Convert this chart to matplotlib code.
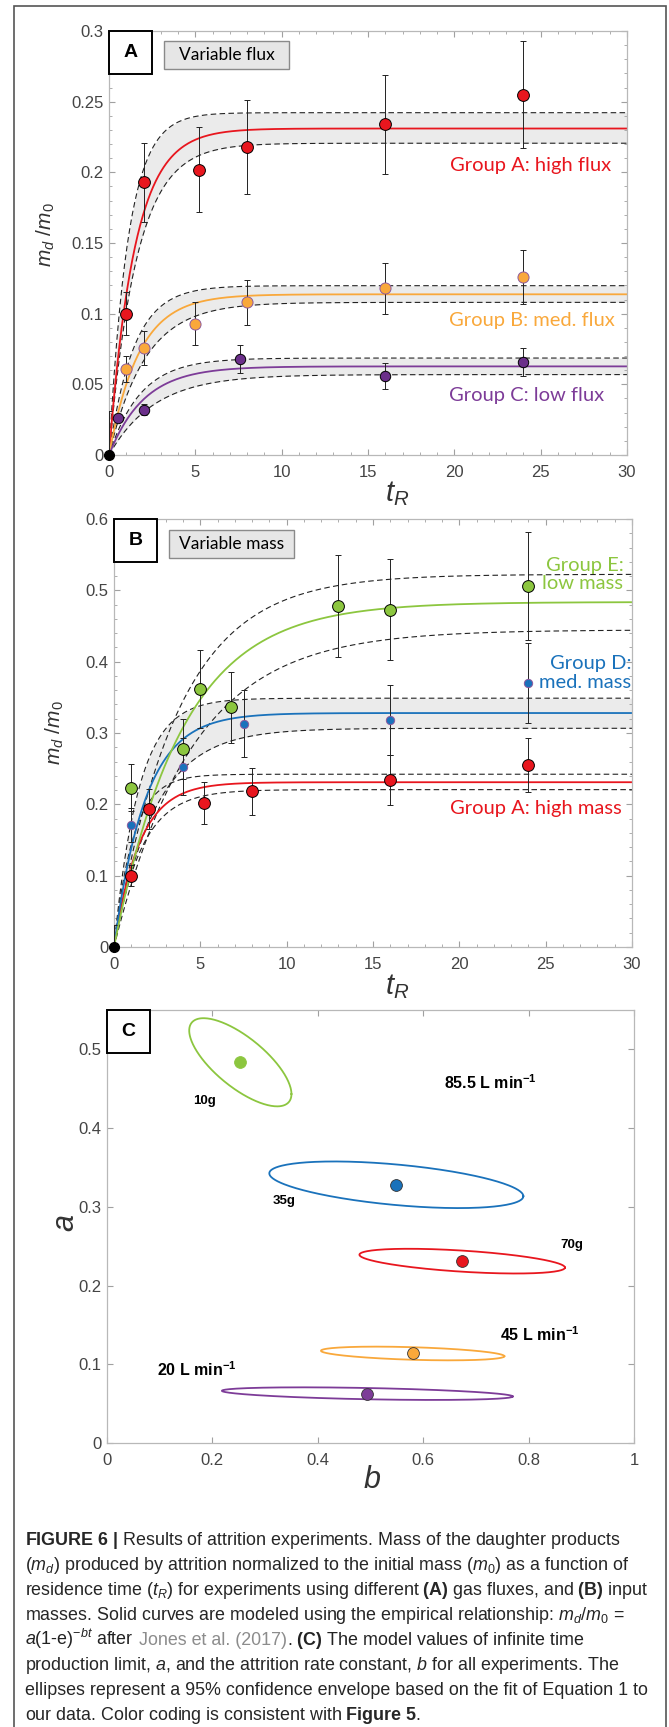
import numpy as np
import matplotlib
matplotlib.use("Agg")
import matplotlib.pyplot as plt
from matplotlib.patches import Rectangle
from matplotlib.ticker import MultipleLocator, FuncFormatter

W, H = 669, 1727

plt.rcParams['font.family'] = ['Liberation Sans', 'DejaVu Sans']
plt.rcParams['mathtext.fontset'] = 'custom'
plt.rcParams['mathtext.rm'] = 'Liberation Sans'
plt.rcParams['mathtext.it'] = 'Liberation Sans:italic'
plt.rcParams['mathtext.bf'] = 'Liberation Sans:bold'

# ---- panel A : variable flux ----
tA_high = [1, 2, 5.2, 8, 16, 24]
yA_high = [0.100, 0.193, 0.202, 0.218, 0.234, 0.255]
eA_high = [0.015, 0.028, 0.030, 0.033, 0.035, 0.038]

tA_med = [1, 2, 5, 8, 16, 24]
yA_med = [0.061, 0.076, 0.093, 0.108, 0.118, 0.126]
eA_med = [0.009, 0.012, 0.015, 0.016, 0.018, 0.019]

tA_low = [0.5, 2, 7.6, 16, 24]
yA_low = [0.026, 0.032, 0.068, 0.056, 0.066]
eA_low = [0.003, 0.004, 0.010, 0.009, 0.010]

# ---- panel B : variable mass (group A high mass = same runs as high flux) ----
tB_low = [1, 4, 5, 6.75, 13, 16, 24]
yB_low = [0.223, 0.278, 0.362, 0.336, 0.478, 0.473, 0.506]
eB_low = [0.033, 0.042, 0.055, 0.050, 0.072, 0.071, 0.076]

tB_med = [1, 4, 7.5, 16, 24]
yB_med = [0.171, 0.253, 0.313, 0.318, 0.370]
eB_med = [0.024, 0.040, 0.047, 0.049, 0.056]

origin_t, origin_y, origin_e = [0], [0], [0.031]

# fitted a, b (panel C centres) and dashed 95% bounds, order:
# high flux/mass, med. flux, low flux, med. mass, low mass
fit_a = [0.231, 0.1137, 0.0627, 0.328, 0.4836]
fit_b = [0.674, 0.580, 0.494, 0.549, 0.253]
hi_a = [0.2422, 0.1198, 0.0686, 0.3488, 0.5225]
hi_b = [0.90, 0.70, 0.55, 0.70, 0.27]
lo_a = [0.2206, 0.108, 0.0569, 0.3066, 0.4446]
lo_b = [0.62, 0.48, 0.38, 0.42, 0.22]

# confidence ellipses: half range in b, half range in a, b-a correlation
ell_sb = [0.195, 0.174, 0.276, 0.241, 0.097]
ell_sa = [0.0157, 0.0087, 0.008, 0.0296, 0.056]
ell_rho = [-0.52, -0.40, -0.45, -0.49, -0.72]

red = '#e8161e'
orange = '#f9a83b'
purple = '#7d3c98'
blue = '#1a72bb'
green = '#8cc63f'
cols = [red, orange, purple, blue, green]

t = np.linspace(0, 30, 400)


def model(a, b):
    return a * (1 - np.exp(-b * t))


fig = plt.figure(figsize=(W / 100, H / 100), dpi=100)


def px_axes(x0, y0, x1, y1):
    return fig.add_axes([x0 / W, 1 - y1 / H, (x1 - x0) / W, (y1 - y0) / H])


def style(ax, xmaj, ymaj, xmin=None, ymin=None):
    for s in ax.spines.values():
        s.set_color('#b8b8b8')
        s.set_linewidth(0.9)
    ax.xaxis.set_major_locator(MultipleLocator(xmaj))
    ax.yaxis.set_major_locator(MultipleLocator(ymaj))
    if xmin:
        ax.xaxis.set_minor_locator(MultipleLocator(xmin))
        ax.yaxis.set_minor_locator(MultipleLocator(ymin))
    fmt = FuncFormatter(lambda v, p: '%g' % round(v, 3))
    ax.xaxis.set_major_formatter(fmt)
    ax.yaxis.set_major_formatter(fmt)
    ax.tick_params(which='both', direction='in', top=True, right=True,
                   color='#a0a0a0', labelsize=12, labelcolor='#444444')
    ax.tick_params(which='major', length=4.5, width=0.8)
    ax.tick_params(which='minor', length=2.5, width=0.6)
    ax.tick_params(axis='x', pad=7)
    ax.tick_params(axis='y', pad=4)


def label_boxes(x0, y0, letter, x1, x2, yb0, yb1, word):
    fig.add_artist(Rectangle((x0 / W, 1 - (y0 + 43) / H), 43 / W, 43 / H,
                             transform=fig.transFigure, fc='white', ec='black', lw=1.4))
    fig.text((x0 + 21.5) / W, 1 - (y0 + 21.5) / H, letter, ha='center', va='center',
             fontsize=14, fontweight='bold')
    fig.add_artist(Rectangle((x1 / W, 1 - yb1 / H), (x2 - x1) / W, (yb1 - yb0) / H,
                             transform=fig.transFigure, fc='#e6e6e6', ec='#8a8a8a', lw=1.0))
    fig.text((x1 + x2) / 2 / W, 1 - (yb0 + yb1) / 2 / H, word, ha='center', va='center',
             fontsize=12.5, family='Lato')


def draw_group(ax, tt, yy, ee, i, ms, mec='k', fill=True):
    if fill:
        ax.fill_between(t, model(lo_a[i], lo_b[i]), model(hi_a[i], hi_b[i]),
                        color='#ebebeb', lw=0, zorder=1)
    ax.plot(t, model(hi_a[i], hi_b[i]), ls=(0, (5, 3)), color='#222222', lw=0.8, zorder=2)
    ax.plot(t, model(lo_a[i], lo_b[i]), ls=(0, (5, 3)), color='#222222', lw=0.8, zorder=2)
    ax.plot(t, model(fit_a[i], fit_b[i]), color=cols[i], lw=1.3, zorder=2.5)
    ax.errorbar(tt, yy, yerr=ee, fmt='none', ecolor='#222222', elinewidth=0.7,
                capsize=2, capthick=0.7, zorder=3)
    ax.plot(tt, yy, 'o', ms=ms, mfc=cols[i], mec=mec, mew=0.7, zorder=4)


def origin(ax):
    ax.errorbar(origin_t, origin_y, yerr=origin_e, fmt='none', ecolor='#222222',
                elinewidth=0.7, capsize=2, capthick=0.7, zorder=3)
    ax.plot(origin_t, origin_y, 'o', ms=7, color='black', zorder=5, clip_on=False)


# ---------------- panel A ----------------
axA = px_axes(109, 31, 627, 455)
draw_group(axA, tA_high, yA_high, eA_high, 0, 8.5)
draw_group(axA, tA_med, yA_med, eA_med, 1, 8, mec='#8e5a9e')
draw_group(axA, tA_low, yA_low, eA_low, 2, 7.5)
axA.lines[-1].set_markerfacecolor('#6b2f8a')
origin(axA)
axA.set_xlim(0, 30)
axA.set_ylim(0, 0.3)
style(axA, 5, 0.05, 1, 0.01)
axA.text(29.1, 0.2047, 'Group A: high flux', ha='right', va='center', color=red,
         family='Lato', fontsize=14.5)
axA.text(29.3, 0.0955, 'Group B: med. flux', ha='right', va='center', color=orange,
         family='Lato', fontsize=14.5)
axA.text(28.7, 0.042, 'Group C: low flux', ha='right', va='center', color=purple,
         family='Lato', fontsize=14.5)
axA.set_ylabel(r'$m_d\ /m_0$', fontsize=15, color='#333333')
axA.yaxis.set_label_coords(-0.1, 0.52)
axA.set_xlabel(r'$t_R$', fontsize=21, color='#333333')
axA.xaxis.set_label_coords(0.556, -0.09)
axA.xaxis.label.set_va('center')
label_boxes(109, 31, 'A', 164, 289, 40.7, 69.3, 'Variable flux')

# ---------------- panel B ----------------
axB = px_axes(114, 519, 632, 947)
draw_group(axB, tA_high, yA_high, eA_high, 0, 8.5, fill=False)
draw_group(axB, tB_med, yB_med, eB_med, 3, 6, mec='#8e5a9e')
draw_group(axB, tB_low, yB_low, eB_low, 4, 8.5, fill=False)
origin(axB)
axB.set_xlim(0, 30)
axB.set_ylim(0, 0.6)
style(axB, 5, 0.1, 1, 0.02)
axB.text(29.5, 0.522, 'Group E:\nlow mass', ha='right', va='center', color=green,
         family='Lato', fontsize=14.5, multialignment='right', linespacing=1.1)
axB.text(29.95, 0.384, 'Group D:\nmed. mass', ha='right', va='center', color=blue,
         family='Lato', fontsize=14.5, multialignment='right', linespacing=1.1)
axB.text(29.4, 0.194, 'Group A: high mass', ha='right', va='center', color=red,
         family='Lato', fontsize=14.5)
axB.set_ylabel(r'$m_d\ /m_0$', fontsize=15, color='#333333')
axB.yaxis.set_label_coords(-0.093, 0.5)
axB.set_xlabel(r'$t_R$', fontsize=21, color='#333333')
axB.xaxis.set_label_coords(0.546, -0.093)
axB.xaxis.label.set_va('center')
label_boxes(114, 519, 'B', 169, 294, 530, 558, 'Variable mass')

# ---------------- panel C ----------------
axC = px_axes(107, 1010, 634, 1443)
s = np.linspace(0, 2 * np.pi, 300)
for i in range(5):
    eb = fit_b[i] + ell_sb[i] * np.cos(s)
    ea = fit_a[i] + ell_sa[i] * (ell_rho[i] * np.cos(s) + np.sqrt(1 - ell_rho[i] ** 2) * np.sin(s))
    axC.plot(eb, ea, color=cols[i], lw=1.3)
    axC.plot(fit_b[i], fit_a[i], 'o', ms=8.5, mfc=cols[i],
             mec='#333333' if i < 4 else cols[i], mew=0.6)
axC.set_xlim(0, 1)
axC.set_ylim(0, 0.55)
style(axC, 0.2, 0.1)
axC.text(0.639, 0.458, r'85.5 L min$^{\mathbf{-1}}$', fontsize=11.5, fontweight='bold', va='center')
axC.text(0.745, 0.138, r'45 L min$^{\mathbf{-1}}$', fontsize=11.5, fontweight='bold', va='center')
axC.text(0.095, 0.0934, r'20 L min$^{\mathbf{-1}}$', fontsize=11.5, fontweight='bold', va='center')
axC.text(0.163, 0.434, '10g', fontsize=9.5, fontweight='bold', va='center')
axC.text(0.315, 0.307, '35g', fontsize=9.5, fontweight='bold', va='center')
axC.text(0.861, 0.251, '70g', fontsize=9.5, fontweight='bold', va='center')
axC.set_ylabel('$a$', fontsize=22, color='#333333')
axC.yaxis.set_label_coords(-0.078, 0.508)
axC.yaxis.label.set_va('center')
axC.set_xlabel('$b$', fontsize=22, color='#333333')
axC.xaxis.set_label_coords(0.502, -0.085)
axC.xaxis.label.set_va('center')
fig.add_artist(Rectangle((107 / W, 1 - 1053 / H), 43 / W, 43 / H,
                         transform=fig.transFigure, fc='white', ec='black', lw=1.4))
fig.text(128.5 / W, 1 - 1031.5 / H, 'C', ha='center', va='center', fontsize=14, fontweight='bold')

# ---------------- outer frame and caption ----------------
fig.add_artist(Rectangle((14 / W, -0.01), (666 - 14) / W, 1.01 - 6 / H,
                         transform=fig.transFigure, fill=False, ec='#555555', lw=1.2))

caption = [
    r"$\mathbf{FIGURE\ 6\ |}$ Results of attrition experiments. Mass of the daughter products",
    r"($m_d$) produced by attrition normalized to the initial mass ($m_0$) as a function of",
    r"residence time ($t_R$) for experiments using different $\mathbf{(A)}$ gas fluxes, and $\mathbf{(B)}$ input",
    r"masses. Solid curves are modeled using the empirical relationship: $m_d/m_0$ =",
    [(r"$a$(1-e)$^{-bt}$ after", '#222222'), (" Jones et al. (2017)", '#8c8c8c'),
     (r". $\mathbf{(C)}$ The model values of infinite time", '#222222')],
    r"production limit, $a$, and the attrition rate constant, $b$ for all experiments. The",
    r"ellipses represent a 95% confidence envelope based on the fit of Equation 1 to",
    r"our data. Color coding is consistent with $\mathbf{Figure\ 5}$.",
]
cap_size = 12.9
renderer = fig.canvas.get_renderer()
space = 0.278 * cap_size * 100 / 72
for k, line in enumerate(caption):
    yb = 1 - (1545 + 25 * k) / H
    if isinstance(line, str):
        fig.text(25 / W, yb, line, fontsize=cap_size, color='#262626', va='baseline')
    else:
        x = 25
        for txt, c in line:
            if txt.startswith(' '):
                x += space
                txt = txt[1:]
            tx = fig.text(x / W, yb, txt, fontsize=cap_size, color=c, va='baseline')
            x = tx.get_window_extent(renderer=renderer).x1

fig.savefig('out.png', dpi=100)
